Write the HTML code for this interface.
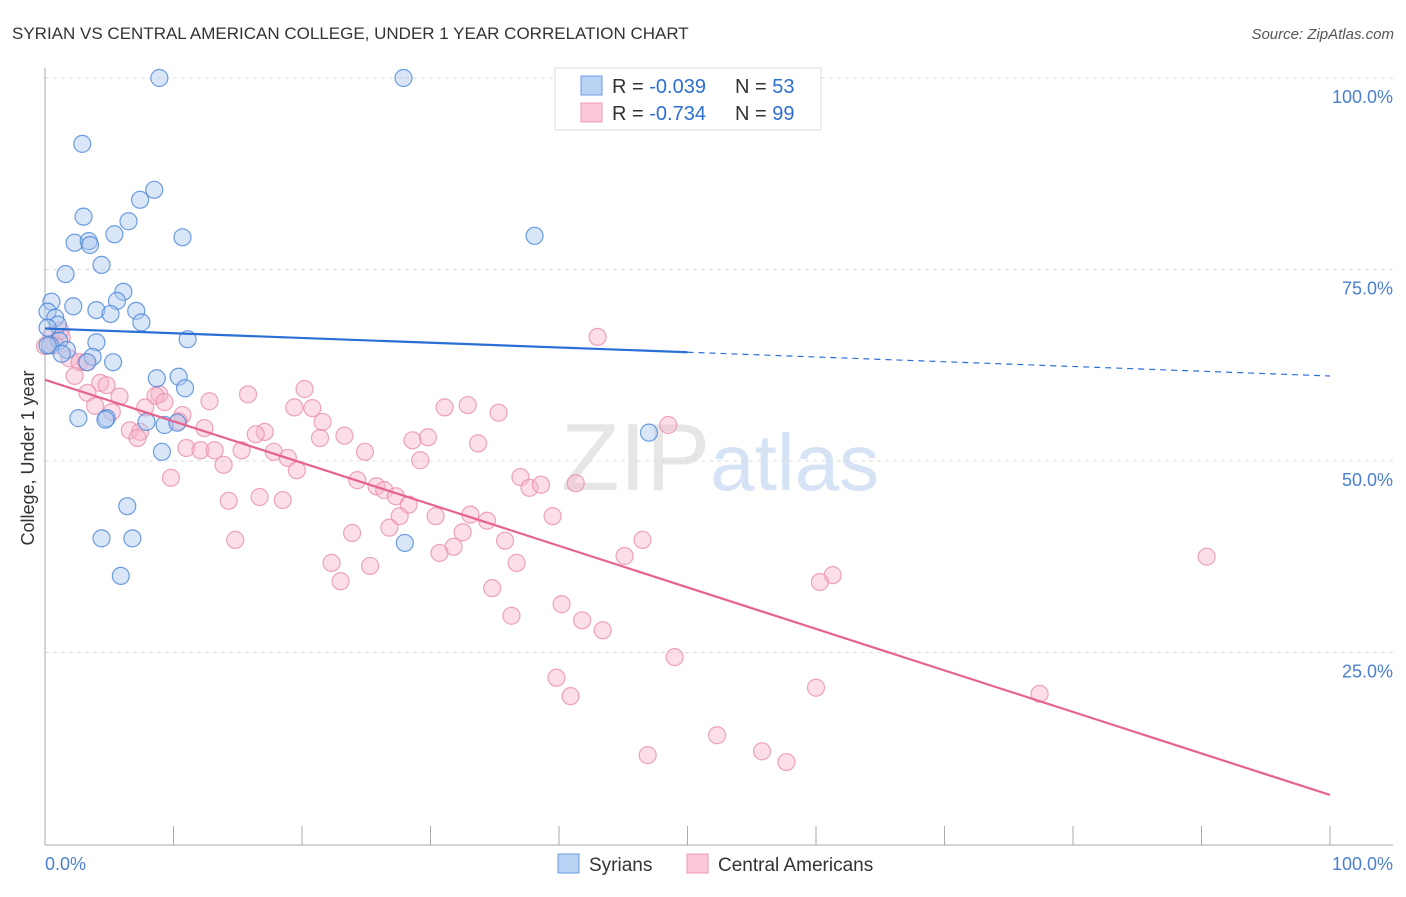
<!DOCTYPE html>
<html><head><meta charset="utf-8"><style>
body{margin:0;background:#fff;font-family:"Liberation Sans",sans-serif;}
svg text{font-family:"Liberation Sans",sans-serif;}
</style></head><body>
<svg id="chart" width="1406" height="892" xmlns="http://www.w3.org/2000/svg">
<text x="12" y="39" font-size="17" fill="#333">SYRIAN VS CENTRAL AMERICAN COLLEGE, UNDER 1 YEAR CORRELATION CHART</text>
<text x="1394" y="39" font-size="15" fill="#555" text-anchor="end" font-style="italic">Source: ZipAtlas.com</text>
<text x="720" y="490" font-size="96" fill="#e6e6e6" text-anchor="middle" font-family="Liberation Serif">ZIP<tspan fill="#d5e3f5" font-family="Liberation Sans" font-size="80">atlas</tspan></text>
<g id="grid"></g>
<g id="axes"></g>
<g id="marks"></g>
<g id="lines"></g>
<text transform="translate(34,458) rotate(-90)" font-size="18" fill="#333" text-anchor="middle">College, Under 1 year</text>
<g>
<rect x="555" y="68" width="266" height="62" fill="#fff" stroke="#ddd"/>
<rect x="581" y="76" width="21" height="19" fill="#b9d3f5" stroke="#6a9be0"/>
<rect x="581" y="103" width="21" height="19" fill="#fbc8d8" stroke="#ef98b4"/>
<text x="612" y="93" font-size="20" fill="#333">R = <tspan fill="#2d6fd0">-0.039</tspan><tspan x="735">N = </tspan><tspan fill="#2d6fd0">53</tspan></text>
<text x="612" y="120" font-size="20" fill="#333">R = <tspan fill="#2d6fd0">-0.734</tspan><tspan x="735">N = </tspan><tspan fill="#2d6fd0">99</tspan></text>
</g>
<g>
<rect x="558" y="854" width="21" height="19" fill="#b9d3f5" stroke="#6a9be0"/>
<text x="589" y="871" font-size="19" fill="#333">Syrians</text>
<rect x="687" y="854" width="21" height="19" fill="#fbc8d8" stroke="#ef98b4"/>
<text x="718" y="871" font-size="19" fill="#333">Central Americans</text>
</g>
</svg>
<script>
const blueX=[8.9,27.9,2.9,8.5,7.4,3.0,6.5,5.4,2.3,3.4,3.5,10.7,38.1,4.4,1.6,6.1,0.5,5.6,2.2,4.0,7.1,5.1,0.2,0.8,7.5,1.0,0.2,11.1,1.1,4.0,0.4,1.7,1.3,3.7,5.3,8.7,10.4,10.9,2.6,4.8,4.7,7.9,9.3,10.3,47.0,9.1,6.4,4.4,6.8,28.0,5.9,3.3,0.2];
const blueY=[100,100,91.4,85.4,84.1,81.9,81.3,79.6,78.5,78.7,78.2,79.2,79.4,75.6,74.4,72.1,70.8,70.9,70.2,69.7,69.6,69.2,69.5,68.7,68.1,67.8,67.4,65.9,65.7,65.5,65.1,64.5,64.0,63.6,62.9,60.8,61.0,59.5,55.6,55.6,55.4,55.1,54.7,55.0,53.7,51.2,44.1,39.9,39.9,39.3,35.0,62.9,65.1];
const pinkX=[43.0,0.5,1.3,0.8,1.9,2.7,3.2,2.3,20.2,4.3,4.8,3.3,15.8,8.9,8.6,5.8,3.9,9.3,12.8,7.8,5.2,19.4,20.8,10.7,10.4,31.1,32.9,35.3,21.6,6.6,7.4,12.4,17.1,7.2,16.4,21.4,23.3,29.8,28.6,24.9,33.7,11.0,12.1,13.2,15.3,17.8,18.9,13.9,19.6,29.2,9.8,37.0,24.3,25.8,26.4,37.7,38.6,41.3,27.3,16.7,18.5,14.3,28.3,30.4,33.1,34.4,39.5,27.6,26.8,32.5,23.9,35.8,14.8,46.5,31.8,30.7,45.1,36.7,22.3,25.3,23.0,34.8,61.3,60.3,90.4,40.2,36.3,41.8,43.4,49.0,39.8,40.9,60.0,77.4,52.3,46.9,55.8,57.7,48.5,0,1.2];
const pinkY=[66.2,66.4,66.1,65.1,63.4,62.9,62.9,61.1,59.4,60.2,59.9,58.9,58.7,58.7,58.5,58.4,57.2,57.7,57.8,57.0,56.4,57.0,56.9,56.0,55.2,57.0,57.3,56.3,55.1,54.0,53.8,54.3,53.8,53.0,53.5,53.0,53.3,53.1,52.7,51.2,52.3,51.7,51.4,51.4,51.4,51.2,50.4,49.5,48.8,50.1,47.8,47.9,47.5,46.7,46.2,46.5,46.9,47.1,45.4,45.3,44.9,44.8,44.3,42.8,43.0,42.2,42.8,42.8,41.3,40.7,40.6,39.6,39.7,39.7,38.8,38.0,37.6,36.7,36.7,36.3,34.3,33.4,35.1,34.2,37.5,31.3,29.8,29.2,27.9,24.4,21.7,19.3,20.4,19.6,14.2,11.6,12.1,10.7,54.7,65.0,67.0];
const trendStart=[67.3,60.6];
const trendEnd=[61.1,6.4];
const yTicks=[25,50,75,100];
const xTicks=[0,10,20,30,40,50,60,70,80,90,100];
const NS='http://www.w3.org/2000/svg';
const X0=45,X1=1330,Y0=844,Y100=78;
const sx=v=>X0+(X1-X0)*v/100, sy=v=>Y0-(Y0-Y100)*v/100;
function mk(tag,attrs,parent){const e=document.createElementNS(NS,tag);for(const k in attrs)e.setAttribute(k,attrs[k]);parent.appendChild(e);return e;}
const grid=document.getElementById('grid'),axes=document.getElementById('axes'),marks=document.getElementById('marks'),lines=document.getElementById('lines');
yTicks.forEach(t=>{
 const l=mk('line',{x1:X0,x2:1393,y1:sy(t),y2:sy(t),stroke:'#ddd','stroke-dasharray':'4,4'},grid);
 
 
 const tx=mk('text',{x:1393,y:sy(t)+25,'font-size':18,fill:'#4a7fd0','text-anchor':'end'},axes);
 tx.textContent=t.toFixed(1)+'%';
 
 
});
mk('line',{x1:X0,x2:X0,y1:68,y2:845,stroke:'#aaa'},axes);
const xb=mk('line',{x1:X0,x2:1393,y1:845,y2:845,stroke:'#aaa'},axes);


xTicks.forEach(t=>{
 const tk=mk('line',{x1:sx(t),x2:sx(t),y1:826,y2:845,stroke:'#aaa'},axes);
 
 
});
const xl0=mk('text',{x:45,y:870,'font-size':18,fill:'#4a7fd0'},axes);xl0.textContent='0.0%';


const xl1=mk('text',{x:1393,y:870,'font-size':18,fill:'#4a7fd0','text-anchor':'end'},axes);xl1.textContent='100.0%';


function pts(xs,ys,fill,stroke,name){xs.forEach((x,i)=>{
 const c=mk('circle',{cx:sx(x),cy:sy(ys[i]),r:8.5,fill:fill,'fill-opacity':0.45,stroke:stroke,'stroke-opacity':0.8,'stroke-width':1.2},marks);
 
 
});}
pts(pinkX,pinkY,'#f7b6cb','#ea8eab','central-american-point');
pts(blueX,blueY,'#aac8f0','#4a86d8','syrian-point');
const bm=trendStart[0]+(trendEnd[0]-trendStart[0])*0.5;
const b1=mk('line',{x1:sx(0),y1:sy(trendStart[0]),x2:sx(50),y2:sy(bm),stroke:'#2a6fd6','stroke-width':2.2},lines);


const b2=mk('line',{x1:sx(50),y1:sy(bm),x2:sx(100),y2:sy(trendEnd[0]),stroke:'#2a6fd6','stroke-width':1.2,'stroke-dasharray':'6,5'},lines);


const p1=mk('line',{x1:sx(0),y1:sy(trendStart[1]),x2:sx(100),y2:sy(trendEnd[1]),stroke:'#e6638f','stroke-width':2.2},lines);


</script>
</body></html>
